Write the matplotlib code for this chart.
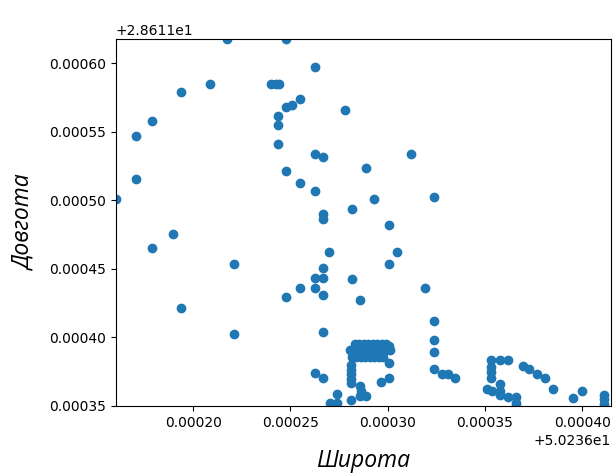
import matplotlib
matplotlib.use('Agg')
import matplotlib.pyplot as plt

# base values shown in the axis offset texts
lat0 = 50.236
lon0 = 28.611

# positions relative to the offsets, in millionths of a degree
dlat = [217.2, 248.0, 208.9, 193.7, 178.9, 170.9, 170.9,
        239.9, 242.5, 244.2, 248.0, 251.0, 255.0,
        243.7, 243.7, 243.7, 248.0, 255.0,
        262.8, 278.1, 262.8, 266.9, 312.0, 288.8,
        262.8, 293.0, 323.7, 281.7, 266.8, 266.8, 300.6,
        160.3, 189.8, 179.0, 221.2, 247.9, 254.8, 193.8, 221.2,
        262.5, 262.5, 266.9, 266.8, 266.9, 270.1, 304.8, 300.7,
        281.7, 319.4, 285.8, 266.8,
        323.7, 323.7, 323.7, 323.7, 328.1, 331.0, 334.5,
        262.5, 266.7, 300.7, 300.7, 296.5,
        281.4, 281.4, 281.4, 281.4, 281.4,
        285.7, 286.5, 289.1, 285.7, 281.4, 274.0, 270.3, 274.0, 271.8,
        283.1, 285.4, 287.7, 290.0, 292.3, 294.7, 297.0, 299.3, 300.8,
        280.5, 282.8, 285.1, 287.4, 289.7, 292.0, 294.3, 296.6, 298.9, 301.2,
        281.6, 283.9, 286.2, 288.5, 290.8, 293.1, 295.4, 297.7,
        353.3, 357.6, 361.6, 353.3, 353.3, 353.3,
        369.4, 372.8, 376.6, 380.6, 384.9,
        350.8, 353.8, 357.6, 357.6, 357.6, 361.9, 365.8, 365.8, 365.8,
        395.4, 399.7, 411.2, 411.2, 411.2]
dlon = [617.7, 617.7, 584.8, 578.8, 557.8, 547.1, 515.3,
        584.8, 584.8, 584.8, 568.2, 569.5, 573.9,
        561.7, 554.9, 541.2, 521.5, 512.9,
        597.0, 565.8, 533.7, 531.5, 533.7, 523.7,
        506.9, 501.1, 502.3, 493.8, 490.3, 486.1, 482.3,
        501.1, 475.5, 464.9, 453.8, 429.2, 435.7, 421.3, 402.3,
        443.7, 435.7, 443.7, 450.3, 430.8, 462.6, 462.6, 453.9,
        442.3, 435.7, 427.2, 404.0,
        411.8, 398.0, 389.2, 376.8, 373.6, 373.6, 370.7,
        373.9, 370.2, 381.4, 370.6, 367.8,
        379.7, 376.4, 373.1, 370.0, 366.4,
        364.7, 360.9, 357.4, 357.1, 354.5, 358.9, 352.0, 352.0, 350.5,
        395.5, 395.5, 395.5, 395.5, 395.5, 395.5, 395.5, 395.5, 394.0,
        390.7, 390.7, 390.7, 390.7, 390.7, 390.7, 390.7, 390.7, 390.7, 390.7,
        385.9, 385.9, 385.9, 385.9, 385.9, 385.9, 385.9, 385.9,
        383.4, 383.4, 383.4, 378.5, 374.8, 370.7,
        379.5, 377.0, 373.6, 370.6, 362.4,
        362.7, 360.6, 365.7, 361.1, 357.8, 356.4, 356.4, 352.3, 350.0,
        356.0, 360.7, 358.3, 354.9, 351.2]

lat = [lat0 + v * 1e-6 for v in dlat]
lon = [lon0 + v * 1e-6 for v in dlon]

fig = plt.figure(figsize=(6.13, 4.74), dpi=100)
ax = fig.add_axes([0.189, 0.1435, 0.8075, 0.7743])
ax.scatter(lat, lon)
ax.set_xlim(lat0 + 160.3e-6, lat0 + 414.7e-6)
ax.set_ylim(lon0 + 350e-6, lon0 + 617.7e-6)

lab = dict(fontsize=16.5, fontstyle='italic', family=['Open Sans', 'DejaVu Sans'])
ax.set_xlabel('Широта', labelpad=14, **lab)
ax.set_ylabel('Довгота', labelpad=9, **lab)

fig.savefig('out.png', dpi=100)
